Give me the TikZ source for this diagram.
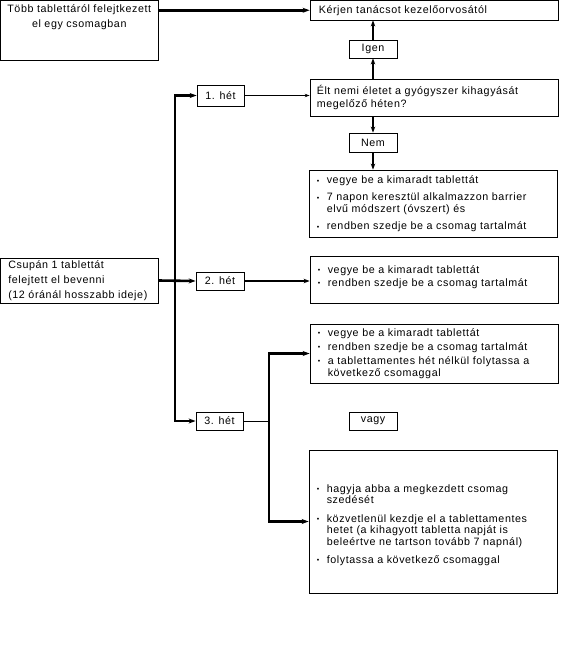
\documentclass[tikz,border=0pt]{standalone}
\usepackage{fontspec}
\setmainfont{Liberation Sans}[LetterSpace=5.5]
\usetikzlibrary{arrows.meta}
\newcommand{\bul}{\makebox[10pt][l]{\fontsize{7}{7}\selectfont\raisebox{0.6pt}{•}}}
\begin{document}
\begin{tikzpicture}[x=1pt,y=-1pt,
  box/.style={draw, line width=0.8pt, inner sep=0pt, rectangle},
  txt/.style={inner sep=0pt, font=\fontsize{10.7}{11.5}\selectfont, align=left},
  ctxt/.style={inner sep=0pt, font=\fontsize{10.7}{11.5}\selectfont, align=center},
  thickline/.style={line width=2.6pt, -{Stealth[length=7pt,width=5pt]}},
  medline/.style={line width=1.8pt, -{Stealth[length=6pt,width=4.5pt]}},
  thinline/.style={line width=0.8pt, -{Stealth[length=5pt,width=3.5pt]}},
  plainline/.style={line width=0.8pt}
]
\useasboundingbox (0,0) rectangle (586,667);

% boxes
\node[box, minimum width=157.5, minimum height=59.5] (b1) at (79.25,30.25) {};
\node[ctxt, anchor=north] (b1t) at ([yshift=-4pt]b1.north) {Több tablettáról felejtkezett\\[3.5pt]el egy csomagban};

\node[box, minimum width=248, minimum height=19.5] (kr) at (434,10.25) {};
\node[txt, anchor=west] (krt) at ([xshift=9pt]kr.west) {Kérjen tanácsot kezelőorvosától};

\node[box, minimum width=48, minimum height=18] (ig) at (373,49) {};
\node[ctxt] (igt) at (ig.center) {Igen};

\node[box, minimum width=248, minimum height=37] (elt) at (434,97.5) {};
\node[txt, anchor=west] (eltt) at ([xshift=7pt]elt.west) {Élt nemi életet a gyógyszer kihagyását\\[1.5pt]megelőző héten?};

\node[box, minimum width=48, minimum height=19] (nem) at (373,142.5) {};
\node[ctxt] (nemt) at (nem.center) {Nem};

\node[box, minimum width=248, minimum height=67] (l1) at (433,203.5) {};
\node[txt, anchor=west] (l1t) at ([xshift=8pt,yshift=-1pt]l1.west) {\begin{tabular}{@{}l@{}l@{}}
\bul & vegye be a kimaradt tablettát\\[5.5pt]
\bul & 7 napon keresztül alkalmazzon barrier\\
 & elvű módszert (óvszert) és\\[6pt]
\bul & rendben szedje be a csomag tartalmát
\end{tabular}};

\node[box, minimum width=47, minimum height=21] (h1) at (220.5,95.5) {};
\node[ctxt] (h1t) at (h1.center) {1. hét};

\node[box, minimum width=157.5, minimum height=45] (cs) at (79.25,280.5) {};
\node[txt, anchor=west] (cst) at ([xshift=8pt]cs.west) {Csupán 1 tablettát\\[3.5pt]felejtett el bevenni\\[3.5pt](12 óránál hosszabb ideje)};

\node[box, minimum width=48, minimum height=18] (h2) at (220,281) {};
\node[ctxt] (h2t) at (h2.center) {2. hét};

\node[box, minimum width=248, minimum height=47] (l2) at (434,279.5) {};
\node[txt, anchor=west] (l2t) at ([xshift=8pt,yshift=2pt]l2.west) {\begin{tabular}{@{}l@{}l@{}}
\bul & vegye be a kimaradt tablettát\\[1pt]
\bul & rendben szedje be a csomag tartalmát
\end{tabular}};

\node[box, minimum width=248, minimum height=59] (l3a) at (434,353.5) {};
\node[txt, anchor=west] (l3at) at ([xshift=8pt,yshift=-0.5pt]l3a.west) {\begin{tabular}{@{}l@{}l@{}}
\bul & vegye be a kimaradt tablettát\\[2.5pt]
\bul & rendben szedje be a csomag tartalmát\\[2.5pt]
\bul & a tablettamentes hét nélkül folytassa a\\[1pt]
 & következő csomaggal
\end{tabular}};

\node[box, minimum width=47, minimum height=18] (h3) at (219.5,421) {};
\node[ctxt] (h3t) at (h3.center) {3. hét};

\node[box, minimum width=48, minimum height=18] (vagy) at (373,421) {};
\node[ctxt] (vagyt) at (vagy.center) {vagy};

\node[box, minimum width=248, minimum height=143] (l3b) at (433,521.5) {};
\node[txt, anchor=west] (l3bt) at ([xshift=8pt,yshift=-4pt]l3b.west) {\begin{tabular}{@{}l@{}l@{}}
\bul & hagyja abba a megkezdett csomag\\
 & szedését\\[7pt]
\bul & közvetlenül kezdje el a tablettamentes\\
 & hetet (a kihagyott tabletta napját is\\
 & beleértve ne tartson tovább 7 napnál)\\[7pt]
\bul & folytassa a következő csomaggal
\end{tabular}};

% connectors
\draw[thickline] (b1.east |- kr.west) -- (kr.west);
\draw[medline] (elt.north -| ig.south) -- (ig.south);
\draw[medline] (ig.north) -- (kr.south -| ig.north);
\draw[medline] (elt.south -| nem.north) -- (nem.north);
\draw[medline] (nem.south) -- (l1.north -| nem.south);

\coordinate (tr) at (175,280.5);
\draw[thickline] (tr) |- (h1.west);
\draw[thickline] (tr) |- (h3.west);
\draw[thickline] (cs.east) -- (h2.west);
\draw[thinline] (h1.east) -- (elt.west |- h1.east);
\draw[medline] (h2.east) -- (l2.west |- h2.east);

\coordinate (sp) at (269,421);
\draw[plainline] (h3.east) -- (sp);
\draw[thickline] ([yshift=-1.3pt]sp) |- (l3a.west);
\draw[thickline] ([yshift=1.3pt]sp) |- (l3b.west);
\end{tikzpicture}
\end{document}
